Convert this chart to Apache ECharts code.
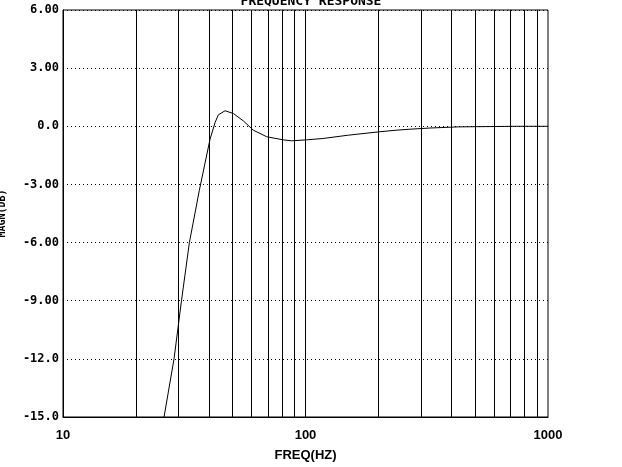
<!DOCTYPE html>
<html>
<head>
<meta charset="utf-8">
<script src="https://cdn.jsdelivr.net/npm/echarts@6/dist/echarts.min.js"></script>
<style>
  html, body { margin: 0; padding: 0; background: #fff; }
  #chart { width: 622px; height: 467px; }
</style>
</head>
<body>
<div id="chart"></div>
<script>
// frequency (Hz) and magnitude (dB)
const freqHz = [26.1, 28.7, 30.8, 33.2, 36.5, 40.4, 42.4, 43.7, 46.6, 50.4, 55.4, 60.9, 69.2, 81, 87.7, 101, 118, 150, 203, 238, 270, 326, 427, 743, 1000]
const magnDb = [-15.0, -12.0, -9.0, -6.0, -3.3, -0.66, 0.2, 0.59, 0.8, 0.66, 0.28, -0.2, -0.54, -0.7, -0.75, -0.7, -0.63, -0.46, -0.28, -0.2, -0.15, -0.09, -0.03, 0.0, 0.0]

// vertical grid lines (Hz)
const gridFreqs = [20, 30, 40, 50, 60, 70, 80, 90, 100, 200, 300, 400, 500, 600, 700, 800, 900]

// y tick labels, bottom to top
const yTickValues = [-15, -12, -9, -6, -3, 0, 3, 6]
const yTickLabels = ['-15.0', '-12.0', '-9.00', '-6.00', '-3.00', '0.0', '3.00', '6.00']

const mChart = echarts.init(document.getElementById('chart'))

const options = {
  animation: false,
  backgroundColor: '#fff',
  title: {
    text: 'FREQUENCY RESPONSE',
    left: 'center',
    top: -5,
    padding: 0,
    textStyle: {
      fontFamily: 'DejaVu Sans Mono',
      fontWeight: 'bold',
      fontSize: 13,
      color: '#000'
    }
  },
  grid: {
    left: 63,
    top: 10,
    right: 74,
    bottom: 50,
    containLabel: false,
    outerBoundsMode: 'none',
    show: true,
    borderColor: '#000',
    borderWidth: 1,
    backgroundColor: 'transparent'
  },
  xAxis: {
    type: 'log',
    logBase: 10,
    min: 10,
    max: 1000,
    name: 'FREQ(HZ)',
    nameLocation: 'middle',
    nameGap: 32,
    nameTextStyle: {
      fontFamily: 'Liberation Sans',
      fontWeight: 'bold',
      fontSize: 13,
      color: '#000'
    },
    axisLine: { show: true, onZero: false, lineStyle: { color: '#000' } },
    axisTick: { show: false },
    splitLine: { show: false },
    axisLabel: {
      margin: 12,
      fontFamily: 'Liberation Sans',
      fontWeight: 'bold',
      fontSize: 13,
      color: '#000',
      showMinLabel: true,
      showMaxLabel: true,
      formatter: (val) => String(Math.round(val))
    }
  },
  yAxis: {
    type: 'value',
    min: -15,
    max: 6,
    interval: 3,
    name: 'MAGN(DB)',
    nameLocation: 'middle',
    nameGap: 56,
    nameTextStyle: {
      fontFamily: 'DejaVu Sans Mono',
      fontWeight: 'bold',
      fontSize: 10,
      color: '#000'
    },
    axisLine: { show: true, onZero: false, lineStyle: { color: '#000' } },
    axisTick: { show: false },
    splitLine: {
      show: true,
      lineStyle: { color: '#000', width: 1, type: [1, 3] }
    },
    axisLabel: {
      margin: 4,
      fontFamily: 'DejaVu Sans Mono',
      fontWeight: 'bold',
      fontSize: 12,
      color: '#000',
      formatter: (val) => {
        const i = yTickValues.indexOf(val)
        return i >= 0 ? yTickLabels[i] : ''
      }
    }
  },
  series: [
    {
      type: 'line',
      data: freqHz.map((f, i) => [f, magnDb[i]]),
      showSymbol: false,
      clip: true,
      lineStyle: { color: '#000', width: 1 },
      markLine: {
        silent: true,
        symbol: ['none', 'none'],
        label: { show: false },
        lineStyle: { color: '#000', width: 1, type: 'solid' },
        data: gridFreqs.map((f) => ({ xAxis: f }))
      }
    }
  ]
}
mChart.setOption(options)
</script>
</body>
</html>
